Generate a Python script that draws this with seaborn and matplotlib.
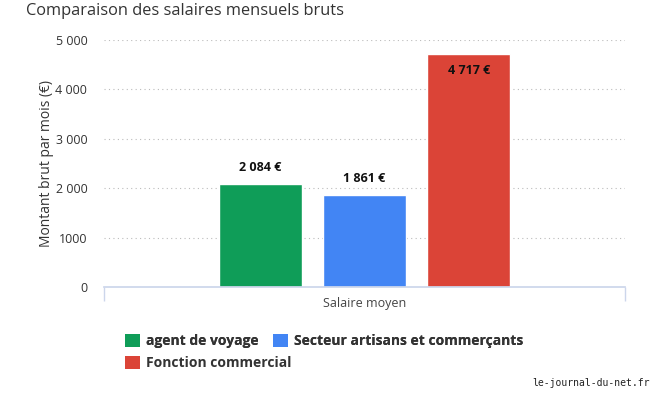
import matplotlib
matplotlib.use("Agg")
import matplotlib.pyplot as plt
from matplotlib.patches import Patch
import pandas as pd
import seaborn as sns

## données
categorie = ["Salaire moyen"]
series = ["agent de voyage", "Secteur artisans et commerçants", "Fonction commercial"]
valeurs = [2084, 1861, 4717]
etiquettes = ["2 084 €", "1 861 €", "4 717 €"]
yticks = [0, 1000, 2000, 3000, 4000, 5000]
ytick_labels = ["0", "1000", "2 000", "3 000", "4 000", "5 000"]
couleurs = ["#0F9D58", "#4285F4", "#DB4437"]

df = pd.DataFrame({"cat": categorie * len(series), "serie": series, "valeur": valeurs})

sns.set_theme(style="white")
plt.rcParams["font.family"] = ["Open Sans", "DejaVu Sans"]

fig = plt.figure(figsize=(6.58, 4.0), dpi=100)
ax = fig.add_axes([104 / 658, 1 - 287 / 400, (625 - 104) / 658, (287 - 40) / 400])

sns.barplot(data=df, x="cat", y="valeur", hue="serie", palette=couleurs,
            width=0.6, gap=0.2, ax=ax, legend=False, saturation=1)

ax.set_xlim(-0.5, 0.5)
ax.set_ylim(0, 5000)
ax.set_yticks(yticks)
ax.set_yticklabels(ytick_labels)
ax.grid(axis="y", linestyle=(0, (1, 3)), color="#bbbbbb", linewidth=0.8)
ax.set_axisbelow(True)
for s in ["top", "right", "left"]:
    ax.spines[s].set_visible(False)
ax.spines["bottom"].set_color("#ccd6eb")
ax.tick_params(axis="y", length=0, labelsize=9, labelcolor="#333333", pad=12)
ax.tick_params(axis="x", which="major", length=0, labelsize=9, labelcolor="#444444", pad=7)
ax.set_xticks([-0.5, 0.5], minor=True)
ax.tick_params(axis="x", which="minor", bottom=True, length=10, color="#ccd6eb", width=1)
ax.set_xlabel("")
ax.set_ylabel("Montant brut par mois (€)", fontsize=10, color="#333333", labelpad=1)

# étiquettes de valeurs
for i, p in enumerate(ax.patches[:len(valeurs)]):
    cx = p.get_x() + p.get_width() / 2
    h = p.get_height()
    if h > 4000:
        ax.annotate(etiquettes[i], (cx, h), xytext=(0, -12), textcoords="offset points",
                    ha="center", va="center", fontsize=9, fontweight="bold", color="#111111")
    else:
        ax.annotate(etiquettes[i], (cx, h), xytext=(0, 12), textcoords="offset points",
                    ha="center", va="center", fontsize=9, fontweight="bold", color="#111111")

fig.text(26 / 658, 1 - 11 / 400, "Comparaison des salaires mensuels bruts",
         fontsize=11.8, color="#333333", va="center", ha="left")

# légende : deux lignes en flux, comme l'original
handles = [Patch(facecolor=c, edgecolor="none") for c in couleurs]
leg_kw = dict(loc="upper left", frameon=False, handlelength=1.1, handleheight=1.1,
              handletextpad=0.45, columnspacing=1.0, prop={"weight": "bold", "size": 10})
leg1 = fig.legend(handles[:2], series[:2], ncol=2,
                  bbox_to_anchor=(112 / 658, 1 - 321 / 400), **leg_kw)
leg2 = fig.legend(handles[2:], series[2:], ncol=1,
                  bbox_to_anchor=(112 / 658, 1 - 343 / 400), **leg_kw)
fig.add_artist(leg1)
for leg in (leg1, leg2):
    for t in leg.get_texts():
        t.set_color("#333333")

fig.text(650 / 658, 1 - 383 / 400, "le-journal-du-net.fr", fontsize=7,
         family="DejaVu Sans Mono", color="#222222", ha="right", va="center")

fig.savefig("out.png", dpi=100)
